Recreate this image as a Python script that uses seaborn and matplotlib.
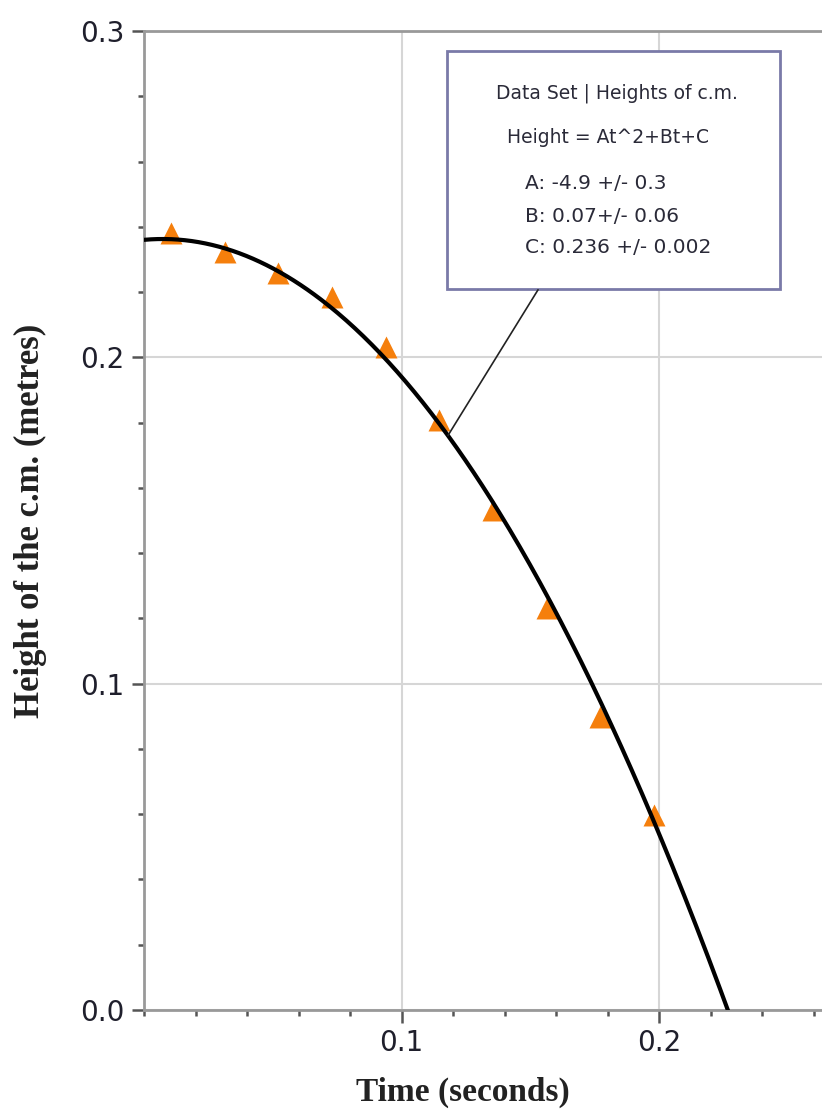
import numpy as np
import pandas as pd
import matplotlib
matplotlib.use("Agg")
import matplotlib.pyplot as plt
from matplotlib.patches import Rectangle
from matplotlib.ticker import MultipleLocator, FormatStrFormatter
import seaborn as sns

# ---- data ----
time_s = [0.0104, 0.0313, 0.0521, 0.0729, 0.0938, 0.1146, 0.1354, 0.1563, 0.1771, 0.1979]
height_m = [0.2381, 0.2323, 0.2259, 0.2185, 0.2032, 0.1808, 0.1532, 0.1232, 0.0898, 0.0598]
fit_A, fit_B, fit_C = -4.9, 0.07, 0.236
box_title = "Data Set | Heights of c.m."
box_formula = "Height = At^2+Bt+C"
box_params = ["A: -4.9 +/- 0.3", "B: 0.07+/- 0.06", "C: 0.236 +/- 0.002"]
x_label = "Time (seconds)"
y_label = "Height of the c.m. (metres)"

sns.set_theme(style="white")
plt.rcParams['font.family'] = ['DejaVu Sans']

fig = plt.figure(figsize=(8.22, 11.10), dpi=100)
ax = fig.add_axes([0.1754, 0.0901, 1 - 0.1754, 0.9721 - 0.0901])

xmax = 0.2633
ax.set_xlim(0, xmax)
ax.set_ylim(0, 0.3)

df = pd.DataFrame({"t": time_s, "h": height_m})
sns.scatterplot(data=df, x="t", y="h", marker="^", s=250, color="#f57f0c",
                linewidth=0, ax=ax, zorder=3, clip_on=False)

t_fit = np.linspace(0, xmax, 400)
h_fit = fit_A * t_fit ** 2 + fit_B * t_fit + fit_C
sns.lineplot(x=t_fit, y=h_fit, color="black", linewidth=3.0, ax=ax, zorder=4, sort=False)

# ticks
ax.xaxis.set_major_locator(MultipleLocator(0.1))
ax.yaxis.set_major_locator(MultipleLocator(0.1))
ax.xaxis.set_minor_locator(MultipleLocator(0.02))
ax.yaxis.set_minor_locator(MultipleLocator(0.02))
ax.set_xticks([0.1, 0.2])
ax.yaxis.set_major_formatter(FormatStrFormatter("%.1f"))
ax.xaxis.set_major_formatter(FormatStrFormatter("%.1f"))
ax.tick_params(axis="both", which="major", direction="out", length=9, width=1.8,
               color="#555555", labelsize=20, labelcolor="#1f1f2c", pad=5)
ax.tick_params(axis="both", which="minor", direction="out", length=4, width=1.8,
               color="#555555")
ax.tick_params(axis="x", which="both", bottom=True)
ax.tick_params(axis="y", which="both", left=True)

ax.grid(True, which="major", color="#d6d6d6", linewidth=1.5)
ax.set_axisbelow(True)

for side in ["left", "bottom", "top"]:
    ax.spines[side].set_color("#999999")
    ax.spines[side].set_linewidth(2.0)
ax.spines["right"].set_visible(False)

ax.set_xlabel(x_label, fontfamily="Liberation Serif", fontweight="bold",
              fontsize=24, color="#222222")
ax.set_ylabel(y_label, fontfamily="Liberation Serif", fontweight="bold",
              fontsize=25, color="#222222")
ax.xaxis.set_label_coords(0.47, -0.068)
ax.yaxis.set_label_coords(-0.144, 0.5)

# annotation box
rect = Rectangle((0.1176, 0.2210), 0.2469 - 0.1176, 0.2939 - 0.2210,
                 facecolor="white", edgecolor="#7a7aa8", linewidth=2.0, zorder=5)
ax.add_patch(rect)
txt_color = "#2a2a38"
ax.text(0.1837, 0.2810, box_title, ha="center", va="center", fontsize=13.5,
        color=txt_color, zorder=6)
ax.text(0.1802, 0.2675, box_formula, ha="center", va="center", fontsize=13.5,
        color=txt_color, zorder=6)
for yv, s in zip([0.2534, 0.2430, 0.2335], box_params):
    ax.text(0.1479, yv, s, ha="left", va="center", fontsize=14.5,
            color=txt_color, zorder=6)

t_pt = 0.118
ax.annotate("", xy=(t_pt, fit_A * t_pt ** 2 + fit_B * t_pt + fit_C),
            xytext=(0.153, 0.2207),
            arrowprops=dict(arrowstyle="-", color="#222222", lw=1.2,
                            shrinkA=0, shrinkB=0), zorder=5)

fig.savefig("out.png", dpi=100)
